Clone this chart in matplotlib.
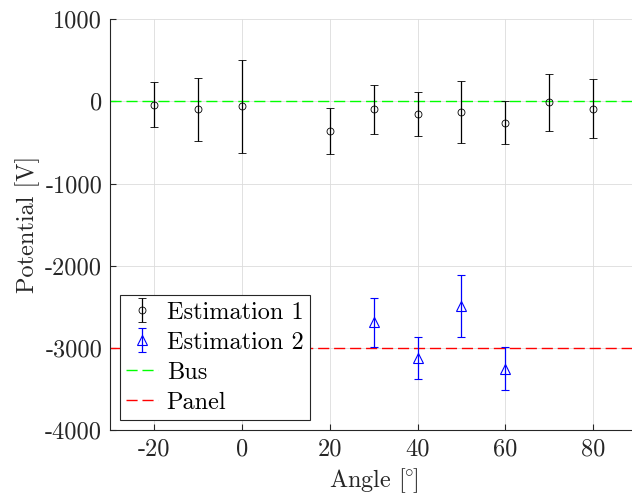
import matplotlib
matplotlib.use("Agg")
import matplotlib.pyplot as plt

plt.rcParams["font.family"] = "cmr10"
plt.rcParams["mathtext.fontset"] = "cm"
plt.rcParams["axes.unicode_minus"] = False
plt.rcParams["axes.formatter.use_mathtext"] = False

# estimates of the potential per angle, with symmetric error
angle_1 = [-20, -10, 0, 20, 30, 40, 50, 60, 70, 80]
pot_1 = [-40, -95, -60, -360, -98, -152, -132, -262, -12, -90]
err_1 = [277, 383, 567, 284, 297, 263, 380, 262, 350, 358]

angle_2 = [30, 40, 50, 60]
pot_2 = [-2690, -3122, -2490, -3252]
err_2 = [300, 260, 380, 260]

bus_level = 0
panel_level = -3000

x_ticks = [-20, 0, 20, 40, 60, 80]
y_ticks = [-4000, -3000, -2000, -1000, 0, 1000]

dark = "#262626"
fs = 17.5

fig = plt.figure(figsize=(6.32, 4.97), dpi=100)
ax = fig.add_axes([0.1748, 0.1348, 0.8331, 0.8264])

e1 = ax.errorbar(angle_1, pot_1, yerr=err_1, fmt="o", color="black", mfc="none",
                 mec="black", ms=5, mew=0.6, elinewidth=0.9, capsize=2.6,
                 capthick=0.9, label="Estimation 1", zorder=3)
e2 = ax.errorbar(angle_2, pot_2, yerr=err_2, fmt="^", color="blue", mfc="none",
                 mec="blue", ms=7, mew=0.8, elinewidth=0.9, capsize=2.6,
                 capthick=0.9, label="Estimation 2", zorder=3)
bus = ax.axhline(bus_level, color="#00ff00", lw=1.0, dashes=(8, 3.5),
                 label="Bus", zorder=2)
panel = ax.axhline(panel_level, color="#ff0000", lw=1.0, dashes=(8, 3.5),
                   label="Panel", zorder=2)

ax.set_xlim(-30, 90)
ax.set_ylim(-4000, 1000)
ax.set_xticks(x_ticks)
ax.set_yticks(y_ticks)
ax.set_xticklabels([str(v) for v in x_ticks])
ax.set_yticklabels([str(v) for v in y_ticks])
ax.grid(True, color="#dcdcdc", lw=0.6)
ax.set_axisbelow(True)

for side in ["top", "right"]:
    ax.spines[side].set_visible(False)
for side in ["left", "bottom"]:
    ax.spines[side].set_color(dark)
    ax.spines[side].set_linewidth(0.8)
ax.tick_params(direction="in", length=4, width=0.8, color=dark,
               labelcolor=dark, labelsize=fs, pad=6)

ax.set_xlabel(r"Angle [$\hspace{-0.09}^{\circ}\hspace{-0.09}$]",
              fontsize=fs, color=dark, labelpad=4)
ax.set_ylabel("Potential [V]", fontsize=fs, color=dark, labelpad=4)

leg = ax.legend([e1, e2, bus, panel],
                ["Estimation 1", "Estimation 2", "Bus", "Panel"],
                loc="lower left", bbox_to_anchor=(0.0186, 0.0243),
                borderaxespad=0, fontsize=fs, fancybox=False, framealpha=1,
                edgecolor=dark, handlelength=1.3, handletextpad=0.36,
                borderpad=0.25, labelspacing=0.33)
leg.get_frame().set_linewidth(0.8)

fig.savefig("out.png", dpi=100)
